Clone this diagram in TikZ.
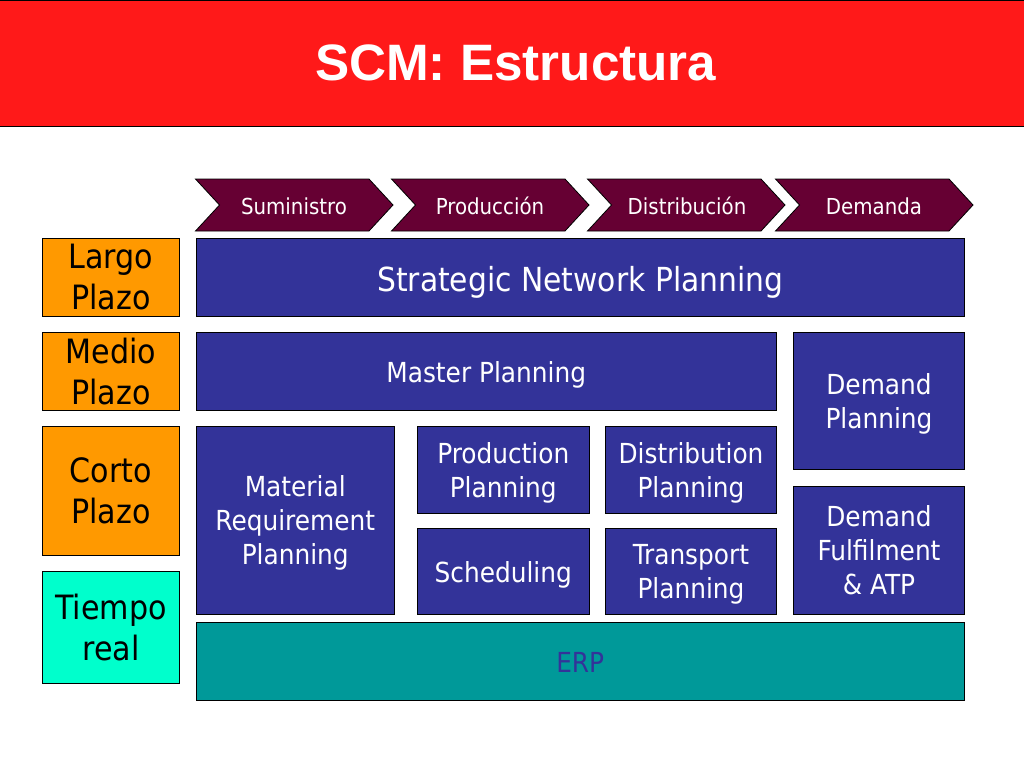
\documentclass[tikz,border=0pt]{standalone}
\usepackage{fontspec}
\setmainfont{Liberation Sans}
\newfontfamily\bodyfont{DejaVu Sans Condensed}
\definecolor{scmred}{RGB}{255,25,25}
\definecolor{scmblue}{RGB}{51,51,153}
\definecolor{scmwine}{RGB}{102,0,51}
\definecolor{scmorange}{RGB}{255,153,0}
\definecolor{scmaqua}{RGB}{0,255,204}
\definecolor{scmteal}{RGB}{0,153,153}
\tikzset{
  box/.style={draw=black,line width=.8pt,outer sep=0pt,fill=scmblue,text=white,align=center,inner sep=0pt,text depth=0pt,execute at begin node={\rule{0pt}{.85em}},font=\bodyfont\fontsize{27.6}{34}\selectfont},
  term/.style={box,text=black,font=\bodyfont\fontsize{33.5}{41}\selectfont},
  phase/.style={draw=black,line width=.8pt,fill=scmwine},
  phaselabel/.style={text=white,inner sep=0pt,anchor=base,font=\bodyfont\fontsize{22}{25}\selectfont}
}
\newcommand{\blockat}[7][box]{% style, name, x0, y0, x1, y1, text
  \node[#1,minimum width=#5pt-#3pt,minimum height=#6pt-#4pt,anchor=south west] (#2) at (#3pt,-#6pt) {#7};}
\begin{document}
\begin{tikzpicture}[x=1pt,y=1pt]
\useasboundingbox (0,-768) rectangle (1024,0);
% title
\node[draw=black,line width=.8pt,outer sep=0pt,fill=scmred,text=white,minimum width=1026pt,minimum height=126.5pt,anchor=north west,font=\fontsize{51.2}{60}\selectfont\bfseries] (title) at (-1pt,0pt) {\hspace*{7.5pt}SCM: Estructura};
% phases
\foreach \name/\xa/\xb/\xc/\lab in {sum/195.5/393/294/Suministro,pro/391.5/589/490/Producción,dis/587.5/785/687/Distribución,dem/775.5/973/874/Demanda}{
  \draw[phase] (\xa pt,-179pt) -- (\xb pt-24pt,-179pt) -- (\xb pt,-205pt) -- (\xb pt-24pt,-231pt) -- (\xa pt,-231pt) -- (\xa pt+24pt,-205pt) -- cycle;
  \node[phaselabel] (\name) at (\xc pt,-214pt) {\lab};
}
% horizons
\blockat[term,fill=scmorange]{largo}{42.5}{238}{179.5}{316}{Largo\\Plazo}
\blockat[term,fill=scmorange]{medio}{42.5}{332}{179.5}{410}{Medio\\Plazo}
\blockat[term,fill=scmorange]{corto}{42.5}{426.5}{179.5}{555}{Corto\\Plazo}
\blockat[term,fill=scmaqua]{tiempo}{42.5}{571.5}{179.5}{683}{Tiempo\\real}
% modules
\blockat[box,font=\bodyfont\fontsize{33.1}{41}\selectfont]{snp}{196}{238}{964.5}{316}{Strategic Network Planning}
\blockat{master}{196}{332}{776.5}{410}{Master Planning}
\blockat{dplan}{793.5}{332}{964.5}{469.5}{Demand\\Planning}
\blockat{mrp}{196}{426.5}{394.5}{614}{Material\\Requirement\\Planning}
\blockat{prod}{417.5}{426.5}{589}{513}{Production\\Planning}
\blockat{dist}{605.5}{426.5}{776.5}{513}{Distribution\\Planning}
\blockat{sched}{417.5}{528.5}{589}{614}{Scheduling}
\blockat{trans}{605.5}{528.5}{776.5}{614}{Transport\\Planning}
\blockat{dful}{793.5}{486.5}{964.5}{614}{Demand\\Fulfilment\\\& ATP}
\blockat[box,fill=scmteal,text=scmblue]{erp}{196}{622.5}{964.5}{700}{ERP}
\end{tikzpicture}
\end{document}
